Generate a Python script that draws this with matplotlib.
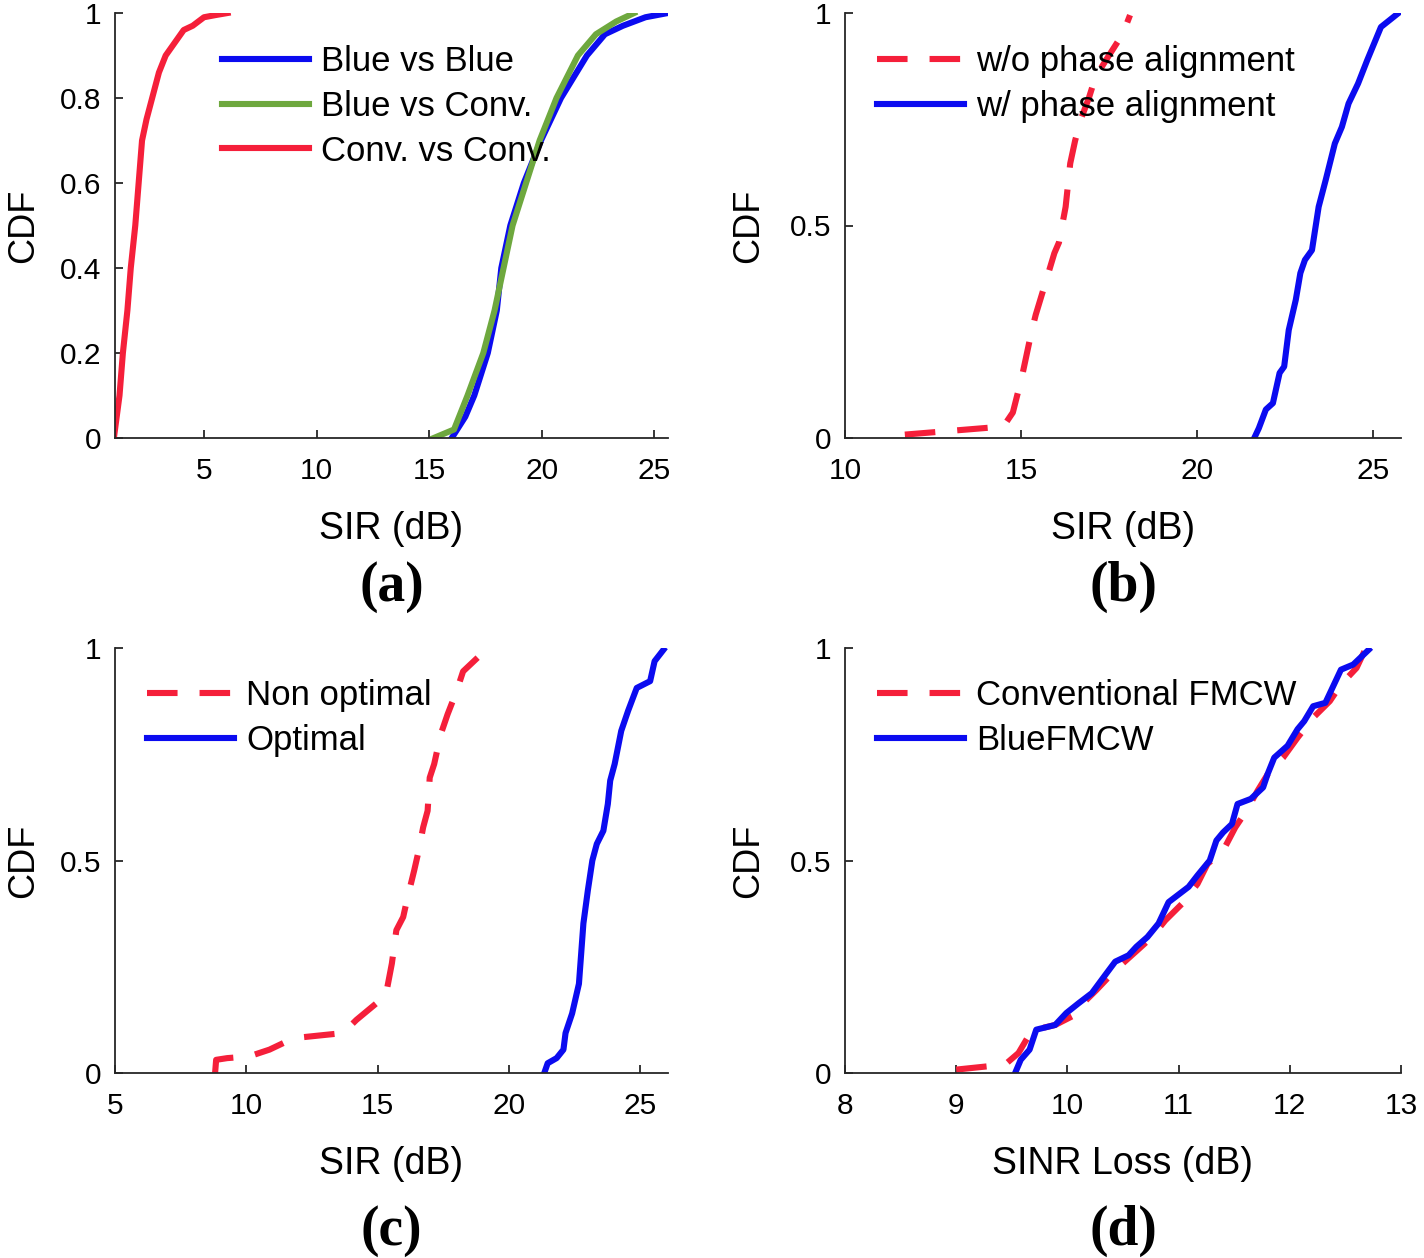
import numpy as np
import matplotlib
matplotlib.use("Agg")
import matplotlib.pyplot as plt

# ---- data (x in dB, y = CDF) ----
# (a) SIR between radar types
a_conv_x = [1.0, 1.25, 1.4, 1.6, 1.75, 1.95, 2.1, 2.25, 2.45, 2.7, 3.0, 3.3, 3.7, 4.1, 4.5, 5.0, 5.5, 6.05]
a_conv_y = [0, 0.1, 0.2, 0.3, 0.4, 0.5, 0.6, 0.7, 0.75, 0.8, 0.86, 0.9, 0.93, 0.96, 0.97, 0.99, 0.995, 1.0]
a_bb_x = [16.0, 16.6, 17.0, 17.6, 18.0, 18.2, 18.6, 19.2, 19.96, 20.85, 22.0, 22.8, 23.6, 24.6, 25.6]
a_bb_y = [0, 0.05, 0.1, 0.2, 0.3, 0.4, 0.5, 0.6, 0.7, 0.8, 0.9, 0.95, 0.97, 0.99, 1.0]
a_bc_x = [15.2, 16.1, 16.7, 17.4, 17.9, 18.3, 18.7, 19.3, 19.9, 20.65, 21.6, 22.4, 23.3, 24.1]
a_bc_y = [0, 0.02, 0.1, 0.2, 0.3, 0.4, 0.5, 0.6, 0.7, 0.8, 0.9, 0.95, 0.98, 1.0]

# (b) phase alignment
b_wo_x = [11.7, 14.5, 14.77, 15.03, 15.3, 15.42, 15.75, 15.95, 16.08, 16.27, 16.4, 16.54,
          16.73, 16.93, 17.12, 17.5, 17.84, 17.97, 18.1]
b_wo_y = [0.008, 0.027, 0.06, 0.145, 0.25, 0.29, 0.38, 0.435, 0.46, 0.544, 0.646, 0.70,
          0.756, 0.80, 0.85, 0.90, 0.944, 0.967, 0.995]
b_w_x = [21.63, 21.76, 21.96, 22.16, 22.35, 22.48, 22.61, 22.81, 22.94, 23.07, 23.27, 23.46,
         23.66, 23.92, 24.12, 24.31, 24.58, 24.84, 25.23, 25.73]
b_w_y = [0, 0.023, 0.067, 0.082, 0.153, 0.168, 0.254, 0.325, 0.388, 0.419, 0.442, 0.544,
         0.607, 0.693, 0.732, 0.787, 0.834, 0.889, 0.967, 1.0]

# (c) optimal vs non optimal
c_non_x = [8.81, 8.85, 9.27, 10.1, 10.88, 11.8, 13.68, 14.19, 14.95, 15.29, 15.37, 15.54, 15.71,
           15.97, 16.14, 16.39, 16.56, 16.73, 16.9, 16.98, 17.15, 17.4, 17.66, 18.0, 18.25, 18.85, 19.27]
c_non_y = [0, 0.031, 0.035, 0.039, 0.055, 0.082, 0.094, 0.125, 0.164, 0.18, 0.203, 0.258, 0.336,
           0.367, 0.414, 0.477, 0.523, 0.578, 0.617, 0.695, 0.727, 0.797, 0.844, 0.898, 0.945, 0.98, 0.996]
c_opt_x = [21.34, 21.47, 21.81, 22.07, 22.15, 22.4, 22.66, 22.83, 23.0, 23.17, 23.34, 23.59, 23.76,
           23.85, 24.02, 24.27, 24.53, 24.86, 25.37, 25.54, 25.88]
c_opt_y = [0, 0.023, 0.035, 0.055, 0.094, 0.14, 0.21, 0.352, 0.43, 0.5, 0.539, 0.57, 0.633,
           0.688, 0.727, 0.805, 0.852, 0.906, 0.922, 0.969, 0.996]

# (d) SINR loss
d_conv_x = [9.0, 9.44, 9.56, 9.68, 9.89, 10.07, 10.14, 10.26, 10.43, 10.63, 10.76, 10.88, 11.03,
            11.17, 11.26, 11.4, 11.51, 11.61, 11.71, 11.82, 11.94, 12.07, 12.21, 12.36, 12.46, 12.6, 12.67]
d_conv_y = [0.008, 0.02, 0.047, 0.1, 0.113, 0.137, 0.164, 0.195, 0.242, 0.289, 0.32, 0.359, 0.398,
            0.445, 0.492, 0.523, 0.578, 0.617, 0.664, 0.711, 0.742, 0.789, 0.836, 0.875, 0.914, 0.953, 0.992]
d_blue_x = [9.53, 9.58, 9.66, 9.72, 9.89, 9.99, 10.1, 10.22, 10.35, 10.43, 10.55, 10.62, 10.72, 10.82,
            10.91, 11.09, 11.17, 11.28, 11.34, 11.4, 11.48, 11.53, 11.65, 11.76, 11.8, 11.86, 11.98,
            12.07, 12.13, 12.21, 12.32, 12.46, 12.57, 12.71]
d_blue_y = [0, 0.031, 0.055, 0.102, 0.113, 0.141, 0.164, 0.188, 0.234, 0.262, 0.277, 0.297, 0.32, 0.352,
            0.402, 0.438, 0.465, 0.5, 0.547, 0.566, 0.586, 0.633, 0.645, 0.672, 0.703, 0.742, 0.77,
            0.809, 0.828, 0.863, 0.871, 0.949, 0.961, 0.996]

RED = "#f51f3a"
BLUE = "#0b0bf0"
GREEN = "#6ea83e"
LW = 4.4
DASH = (5, 3.6)

plt.rcParams.update({
    "font.family": ["Liberation Sans", "DejaVu Sans"],
    "font.size": 21,
    "axes.linewidth": 1.3,
    "axes.edgecolor": "#262626",
    "xtick.direction": "in",
    "ytick.direction": "in",
    "xtick.major.size": 6,
    "ytick.major.size": 6,
    "xtick.major.width": 1.1,
    "ytick.major.width": 1.1,
    "xtick.major.pad": 14,
    "ytick.major.pad": 10,
    "xtick.labelsize": 21.5,
    "ytick.labelsize": 21.5,
})

W, H = 1424, 1258
fig = plt.figure(figsize=(W / 100, H / 100), dpi=100)


def make_ax(left, top, right, bottom):
    return fig.add_axes([left / W, 1 - bottom / H, (right - left) / W, (bottom - top) / H])


def style(ax, xlim, xticks, yticks, xlabel, tag, tag_y, ylab_x):
    ax.set_xlim(*xlim)
    ax.set_ylim(0, 1)
    ax.set_xticks(xticks)
    ax.set_yticks(yticks)
    ax.set_yticklabels([("%g" % t) for t in yticks])
    ax.spines["top"].set_visible(False)
    ax.spines["right"].set_visible(False)
    ax.set_xlabel(xlabel, fontsize=27)
    ax.xaxis.set_label_coords(0.5, -0.172)
    ax.set_ylabel("CDF", fontsize=26)
    ax.yaxis.set_label_coords(ylab_x, 0.5)
    pos = ax.get_position()
    fig.text(pos.x0 + pos.width / 2, 1 - tag_y / H, tag, ha="center", va="center",
             fontsize=40, fontweight="bold", family="Liberation Serif")


def legend(ax, x_px, y_px):
    ax.legend(loc="upper left", bbox_to_anchor=(x_px / W, 1 - y_px / H),
              bbox_transform=fig.transFigure, frameon=False, fontsize=25,
              handlelength=2.5, handletextpad=0.35, labelspacing=0.34,
              borderpad=0, borderaxespad=0)


# (a)
ax = make_ax(115, 13, 668, 438)
ax.plot(a_bb_x, a_bb_y, color=BLUE, lw=LW, label="Blue vs Blue")
ax.plot(a_bc_x, a_bc_y, color=GREEN, lw=LW, label="Blue vs Conv.")
ax.plot(a_conv_x, a_conv_y, color=RED, lw=LW, label="Conv. vs Conv.")
style(ax, (1.05, 25.6), [5, 10, 15, 20, 25], [0, 0.2, 0.4, 0.6, 0.8, 1], "SIR (dB)", "(a)", 587, -0.133)
legend(ax, 222, 45)

# (b)
ax = make_ax(845, 13, 1401, 438)
ax.plot(b_wo_x, b_wo_y, color=RED, lw=LW, dashes=DASH, label="w/o phase alignment")
ax.plot(b_w_x, b_w_y, color=BLUE, lw=LW, label="w/ phase alignment")
style(ax, (10, 25.8), [10, 15, 20, 25], [0, 0.5, 1], "SIR (dB)", "(b)", 587, -0.142)
legend(ax, 877, 45)

# (c)
ax = make_ax(115, 648, 668, 1073)
ax.plot(c_non_x, c_non_y, color=RED, lw=LW, dashes=DASH, label="Non optimal")
ax.plot(c_opt_x, c_opt_y, color=BLUE, lw=LW, label="Optimal")
style(ax, (5, 26.05), [5, 10, 15, 20, 25], [0, 0.5, 1], "SIR (dB)", "(c)", 1231, -0.133)
legend(ax, 147, 679)

# (d)
ax = make_ax(845, 648, 1401, 1073)
ax.plot(d_conv_x, d_conv_y, color=RED, lw=LW, dashes=DASH, label="Conventional FMCW")
ax.plot(d_blue_x, d_blue_y, color=BLUE, lw=LW, label="BlueFMCW")
style(ax, (8, 13), [8, 9, 10, 11, 12, 13], [0, 0.5, 1], "SINR Loss (dB)", "(d)", 1231, -0.142)
legend(ax, 877, 679)

fig.savefig("out.png", dpi=100)
